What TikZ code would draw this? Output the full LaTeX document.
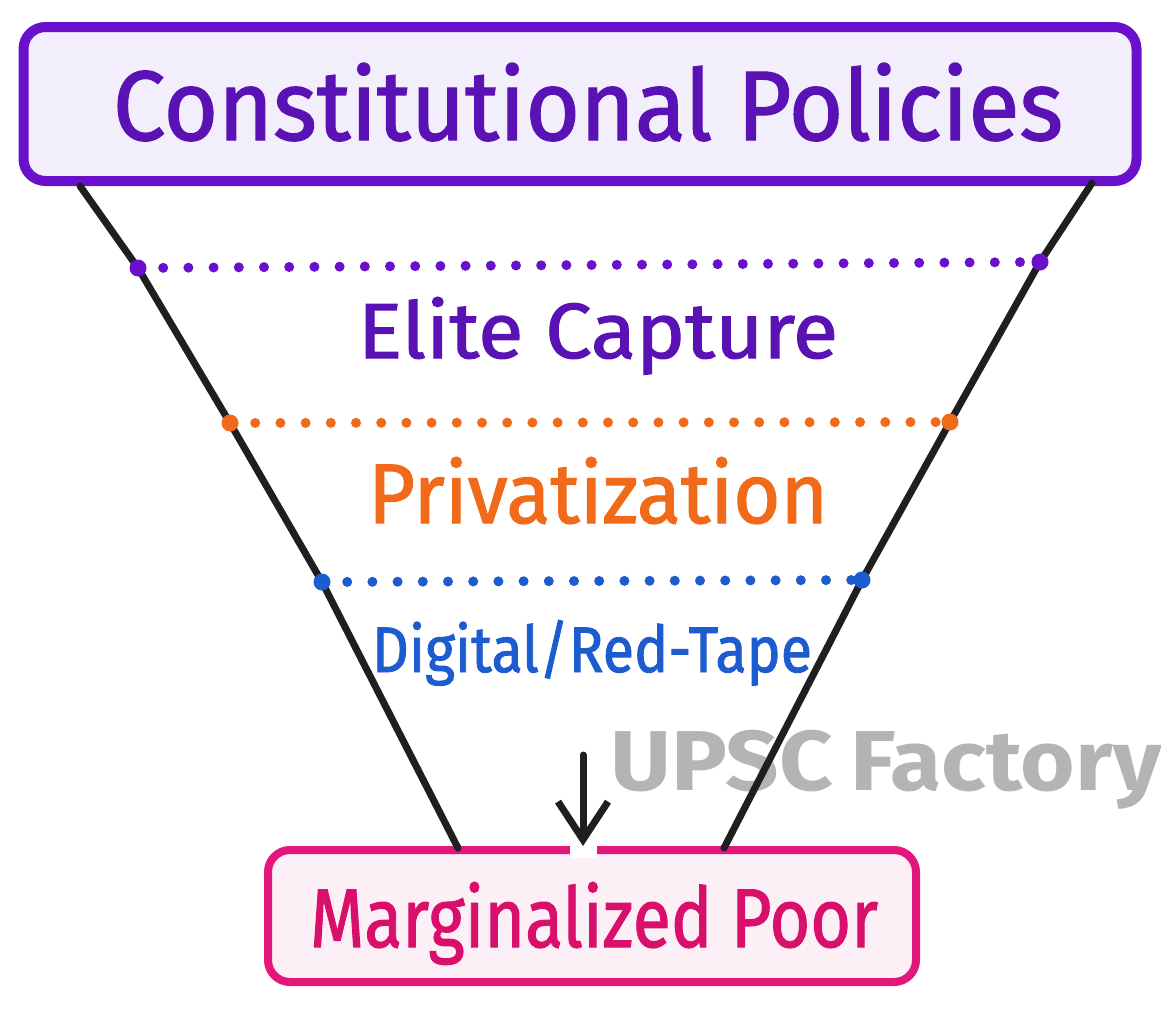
\documentclass[tikz,border=0pt]{standalone}
\usepackage{fontspec}
\setmainfont{Fira Sans}[FakeBold=1.4]
\newfontfamily\wmfont{Fira Sans}
\usetikzlibrary{arrows.meta}
\definecolor{pborder}{HTML}{6A10CC}
\definecolor{ptext}{HTML}{5A12B4}
\definecolor{pfill}{HTML}{F3EEFC}
\definecolor{orangec}{HTML}{F06A1A}
\definecolor{bluec}{HTML}{1C5CCF}
\definecolor{pinkb}{HTML}{E3177B}
\definecolor{pinkt}{HTML}{D8106C}
\definecolor{pinkf}{HTML}{FDEFF6}
\definecolor{wmgray}{HTML}{B4B4B4}
\tikzset{
  funnel/.style={line width=7pt, black!88, line cap=round},
  dotline/.style={line width=10pt, line cap=round, dash pattern=on 0pt off 25.2pt},
  enddot/.style={circle, fill=#1, inner sep=0pt, minimum size=17pt},
  lbl/.style={inner sep=0pt, anchor=base},
}
\newcommand{\fitt}[3]{\resizebox{#1}{#2}{\fontsize{60}{60}\selectfont #3}}
\begin{document}
\begin{tikzpicture}[x=1pt,y=-1pt]
\useasboundingbox[fill=white] (0,0) rectangle (1161,1009);
% watermark
\node[lbl, anchor=base west, text=wmgray] (wm) at (610,790) {\scalebox{1.1}[1]{\wmfont\bfseries\fontsize{85}{85}\selectfont UPSC\hspace{-4pt} Factory}};
% boxes
\node[draw=pborder, fill=pfill, line width=10pt, rounded corners=22pt, minimum width=1113pt, minimum height=154pt, inner sep=0pt] (top) at (580,104) {};
\node[draw=pinkb, fill=pinkf, line width=8pt, rounded corners=22pt, minimum width=648pt, minimum height=132pt, inner sep=0pt] (bot) at (592,916) {};
% texts
\node[lbl, text=ptext] (ttl) at (588,140) {\fitt{950pt}{77pt}{Constitutional Policies}};
\node[lbl, text=pinkt] (mp) at (594,947) {\fitt{568pt}{65pt}{Marginalized Poor}};
\node[lbl, text=ptext] (ec) at (598,358) {\fitt{480pt}{61pt}{Elite Capture}};
\node[lbl, text=orangec] (pv) at (598,523) {\fitt{460pt}{66pt}{Privatization}};
\node[lbl, text=bluec] (dr) at (592,672) {\fitt{440pt}{52pt}{Digital/Red-Tape}};
% funnel coordinates
\coordinate (l0) at (80,186);
\coordinate (l1) at (138,268);
\coordinate (l2) at (230,423);
\coordinate (l3) at (322,582);
\coordinate (l4) at (458,848);
\coordinate (r0) at (1092,183);
\coordinate (r1) at (1040,262);
\coordinate (r2) at (950,422);
\coordinate (r3) at (862,580);
\coordinate (r4) at (724,848);
\draw[funnel] (l0) -- (l1) -- (l2) -- (l3) -- (l4);
\draw[funnel] (r0) -- (r1) -- (r2) -- (r3) -- (r4);
% dotted lines
\draw[dotline, pborder] (l1) -- (r1);
\draw[dotline, orangec] (l2) -- (r2);
\draw[dotline, bluec] (l3) -- (r3);
\foreach \p in {l1,r1} \node[enddot=pborder] at (\p) {};
\foreach \p in {l2,r2} \node[enddot=orangec] at (\p) {};
\foreach \p in {l3,r3} \node[enddot=bluec] at (\p) {};
% arrow
\fill[white] (570,842) rectangle (597,858);
\coordinate (as) at (583,755);
\draw[line width=7pt, black!88, line cap=round, -{Straight Barb[length=38pt,width=50pt,line width=7pt]}] (as) -- (bot.north -| as);
\end{tikzpicture}
\end{document}
